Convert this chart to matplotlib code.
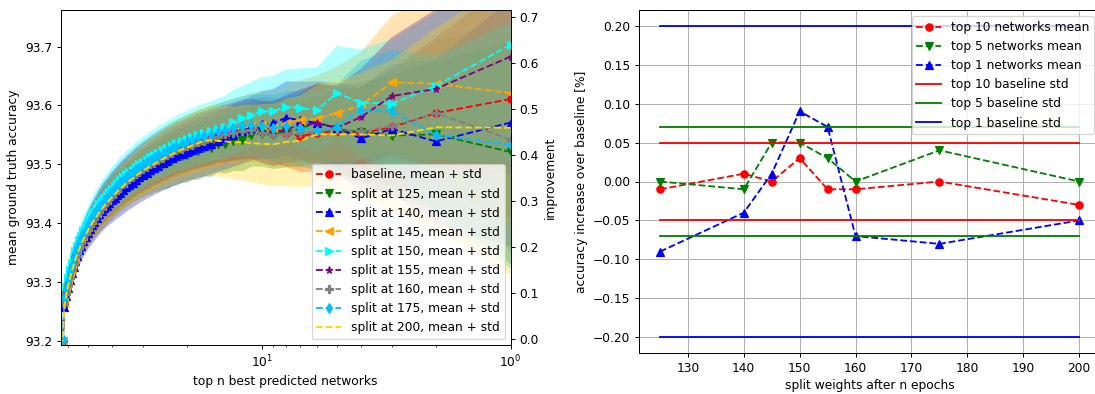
import numpy as np
import matplotlib
matplotlib.use("Agg")
import matplotlib.pyplot as plt

# ---------------------------------------------------------------- left panel data
# number of best predicted networks that are averaged
top_n = np.arange(1, 64)

acc_baseline = [93.611, 93.587, 93.563, 93.553, 93.557, 93.553, 93.548, 93.553, 93.560,
                93.563, 93.560, 93.556, 93.555, 93.550, 93.549, 93.543, 93.542, 93.537, 93.535,
                93.530, 93.528, 93.523, 93.521, 93.515, 93.513, 93.507, 93.505, 93.499, 93.497,
                93.491, 93.489, 93.483, 93.480, 93.474, 93.472, 93.465, 93.463, 93.456, 93.453,
                93.446, 93.443, 93.436, 93.433, 93.426, 93.422, 93.414, 93.410, 93.402, 93.398,
                93.389, 93.384, 93.375, 93.369, 93.359, 93.352, 93.341, 93.333, 93.320, 93.310,
                93.295, 93.282, 93.262, 93.200]
acc_split125 = [93.521, 93.551, 93.549, 93.555, 93.560, 93.572, 93.560, 93.556, 93.550,
                93.552, 93.550, 93.541, 93.540, 93.534, 93.535, 93.528, 93.527, 93.522, 93.521,
                93.516, 93.514, 93.510, 93.507, 93.503, 93.501, 93.498, 93.496, 93.492, 93.490,
                93.486, 93.483, 93.479, 93.475, 93.470, 93.467, 93.462, 93.458, 93.453, 93.449,
                93.443, 93.439, 93.433, 93.429, 93.423, 93.418, 93.412, 93.406, 93.400, 93.394,
                93.387, 93.380, 93.373, 93.365, 93.357, 93.348, 93.339, 93.329, 93.318, 93.306,
                93.293, 93.278, 93.260, 93.200]
acc_split140 = [93.571, 93.539, 93.560, 93.544, 93.562, 93.570, 93.575, 93.579, 93.570,
                93.568, 93.562, 93.556, 93.550, 93.544, 93.540, 93.535, 93.531, 93.528, 93.524,
                93.521, 93.517, 93.514, 93.510, 93.506, 93.502, 93.498, 93.494, 93.490, 93.486,
                93.482, 93.478, 93.474, 93.469, 93.465, 93.461, 93.456, 93.452, 93.448, 93.443,
                93.439, 93.435, 93.430, 93.426, 93.421, 93.415, 93.409, 93.403, 93.397, 93.391,
                93.384, 93.377, 93.370, 93.362, 93.354, 93.345, 93.336, 93.326, 93.315, 93.303,
                93.290, 93.276, 93.258, 93.200]
acc_split145 = [93.621, 93.637, 93.639, 93.600, 93.587, 93.577, 93.575, 93.570, 93.562,
                93.566, 93.565, 93.561, 93.558, 93.555, 93.551, 93.548, 93.545, 93.541, 93.538,
                93.534, 93.531, 93.527, 93.524, 93.519, 93.516, 93.511, 93.508, 93.503, 93.500,
                93.495, 93.492, 93.487, 93.483, 93.478, 93.475, 93.469, 93.466, 93.460, 93.456,
                93.450, 93.446, 93.440, 93.436, 93.430, 93.425, 93.418, 93.413, 93.406, 93.401,
                93.393, 93.387, 93.379, 93.372, 93.363, 93.355, 93.345, 93.336, 93.324, 93.313,
                93.299, 93.285, 93.266, 93.200]
acc_split150 = [93.703, 93.633, 93.603, 93.605, 93.621, 93.592, 93.596, 93.598, 93.590,
                93.590, 93.584, 93.578, 93.572, 93.564, 93.560, 93.556, 93.553, 93.550, 93.546,
                93.543, 93.539, 93.536, 93.532, 93.528, 93.524, 93.520, 93.516, 93.512, 93.508,
                93.504, 93.500, 93.496, 93.491, 93.487, 93.483, 93.478, 93.474, 93.469, 93.464,
                93.459, 93.453, 93.448, 93.443, 93.438, 93.432, 93.426, 93.420, 93.414, 93.408,
                93.401, 93.394, 93.387, 93.379, 93.371, 93.362, 93.353, 93.343, 93.332, 93.320,
                93.307, 93.292, 93.274, 93.205]
acc_split155 = [93.683, 93.628, 93.616, 93.580, 93.562, 93.570, 93.566, 93.560, 93.552,
                93.555, 93.561, 93.559, 93.556, 93.553, 93.551, 93.547, 93.544, 93.541, 93.537,
                93.534, 93.530, 93.527, 93.523, 93.519, 93.515, 93.511, 93.507, 93.503, 93.499,
                93.495, 93.491, 93.487, 93.482, 93.478, 93.474, 93.469, 93.465, 93.460, 93.455,
                93.450, 93.445, 93.440, 93.435, 93.430, 93.424, 93.418, 93.412, 93.406, 93.400,
                93.393, 93.386, 93.379, 93.371, 93.363, 93.354, 93.345, 93.335, 93.324, 93.312,
                93.299, 93.284, 93.266, 93.200]
acc_split160 = [93.542, 93.587, 93.565, 93.556, 93.560, 93.556, 93.553, 93.552, 93.550,
                93.553, 93.558, 93.557, 93.553, 93.551, 93.547, 93.545, 93.540, 93.538, 93.533,
                93.531, 93.526, 93.524, 93.519, 93.516, 93.511, 93.508, 93.503, 93.500, 93.495,
                93.492, 93.487, 93.484, 93.478, 93.475, 93.470, 93.466, 93.461, 93.457, 93.451,
                93.447, 93.441, 93.437, 93.431, 93.427, 93.420, 93.415, 93.408, 93.403, 93.396,
                93.390, 93.382, 93.376, 93.367, 93.360, 93.350, 93.342, 93.331, 93.321, 93.308,
                93.296, 93.280, 93.263, 93.200]
acc_split175 = [93.533, 93.550, 93.590, 93.593, 93.563, 93.557, 93.562, 93.565, 93.562,
                93.565, 93.567, 93.565, 93.562, 93.559, 93.556, 93.552, 93.549, 93.546, 93.542,
                93.539, 93.535, 93.532, 93.528, 93.524, 93.520, 93.516, 93.512, 93.508, 93.504,
                93.500, 93.496, 93.492, 93.487, 93.483, 93.479, 93.474, 93.470, 93.465, 93.460,
                93.455, 93.450, 93.445, 93.440, 93.435, 93.429, 93.423, 93.417, 93.411, 93.405,
                93.398, 93.391, 93.384, 93.376, 93.368, 93.359, 93.350, 93.340, 93.329, 93.317,
                93.304, 93.289, 93.271, 93.203]
acc_split200 = [93.562, 93.563, 93.549, 93.551, 93.551, 93.551, 93.540, 93.538, 93.534,
                93.535, 93.536, 93.538, 93.537, 93.539, 93.540, 93.541, 93.540, 93.536, 93.532,
                93.528, 93.525, 93.521, 93.517, 93.513, 93.509, 93.505, 93.501, 93.497, 93.493,
                93.489, 93.485, 93.481, 93.476, 93.472, 93.468, 93.463, 93.459, 93.454, 93.449,
                93.444, 93.439, 93.434, 93.429, 93.424, 93.418, 93.412, 93.406, 93.400, 93.394,
                93.387, 93.380, 93.373, 93.365, 93.357, 93.348, 93.339, 93.329, 93.318, 93.306,
                93.293, 93.278, 93.260, 93.200]

std_baseline = [0.200, 0.130, 0.100, 0.080, 0.070, 0.065, 0.060, 0.057, 0.054, 0.052,
                0.050, 0.049, 0.048, 0.047, 0.046, 0.046, 0.045, 0.045, 0.044, 0.044,
                0.043, 0.043, 0.042, 0.042, 0.041, 0.041, 0.040, 0.040, 0.039, 0.039,
                0.038, 0.038, 0.037, 0.037, 0.036, 0.036, 0.035, 0.035, 0.034, 0.034,
                0.033, 0.032, 0.032, 0.031, 0.030, 0.029, 0.028, 0.027, 0.026, 0.025,
                0.024, 0.023, 0.022, 0.021, 0.019, 0.018, 0.016, 0.015, 0.013, 0.011,
                0.009, 0.006, 0.002]
std_split125 = [0.190, 0.125, 0.105, 0.085, 0.074, 0.068, 0.063, 0.060, 0.057, 0.055,
                0.053, 0.052, 0.050, 0.049, 0.048, 0.048, 0.047, 0.047, 0.046, 0.046,
                0.045, 0.045, 0.044, 0.044, 0.043, 0.043, 0.042, 0.042, 0.041, 0.041,
                0.040, 0.040, 0.039, 0.039, 0.038, 0.038, 0.037, 0.037, 0.036, 0.036,
                0.035, 0.034, 0.034, 0.033, 0.032, 0.031, 0.030, 0.029, 0.027, 0.026,
                0.025, 0.024, 0.023, 0.022, 0.020, 0.019, 0.017, 0.016, 0.014, 0.012,
                0.009, 0.006, 0.002]
std_split140 = [0.210, 0.140, 0.110, 0.088, 0.077, 0.072, 0.066, 0.063, 0.059, 0.057,
                0.055, 0.054, 0.053, 0.052, 0.051, 0.050, 0.050, 0.049, 0.049, 0.048,
                0.047, 0.047, 0.046, 0.046, 0.045, 0.045, 0.044, 0.044, 0.043, 0.043,
                0.042, 0.042, 0.041, 0.040, 0.040, 0.039, 0.039, 0.038, 0.037, 0.037,
                0.036, 0.035, 0.035, 0.034, 0.033, 0.032, 0.031, 0.030, 0.029, 0.027,
                0.026, 0.025, 0.024, 0.023, 0.021, 0.020, 0.018, 0.016, 0.014, 0.012,
                0.010, 0.007, 0.002]
std_split145 = [0.230, 0.150, 0.115, 0.092, 0.080, 0.075, 0.069, 0.066, 0.062, 0.060,
                0.058, 0.056, 0.055, 0.054, 0.053, 0.053, 0.052, 0.052, 0.051, 0.051,
                0.049, 0.049, 0.048, 0.048, 0.047, 0.047, 0.046, 0.046, 0.045, 0.045,
                0.044, 0.044, 0.043, 0.043, 0.041, 0.041, 0.040, 0.040, 0.039, 0.039,
                0.038, 0.037, 0.037, 0.036, 0.035, 0.033, 0.032, 0.031, 0.030, 0.029,
                0.028, 0.026, 0.025, 0.024, 0.022, 0.021, 0.018, 0.017, 0.015, 0.013,
                0.010, 0.007, 0.002]
std_split150 = [0.200, 0.125, 0.110, 0.090, 0.080, 0.072, 0.067, 0.063, 0.060, 0.058,
                0.056, 0.055, 0.054, 0.053, 0.052, 0.051, 0.050, 0.050, 0.049, 0.048,
                0.047, 0.047, 0.046, 0.046, 0.045, 0.045, 0.044, 0.044, 0.043, 0.043,
                0.042, 0.042, 0.041, 0.040, 0.040, 0.039, 0.039, 0.038, 0.037, 0.037,
                0.036, 0.035, 0.035, 0.034, 0.033, 0.032, 0.031, 0.030, 0.029, 0.027,
                0.026, 0.025, 0.024, 0.023, 0.021, 0.020, 0.018, 0.016, 0.014, 0.012,
                0.010, 0.007, 0.002]
std_split155 = [0.200, 0.135, 0.100, 0.082, 0.071, 0.066, 0.061, 0.058, 0.055, 0.053,
                0.051, 0.050, 0.049, 0.048, 0.047, 0.047, 0.046, 0.046, 0.045, 0.045,
                0.044, 0.044, 0.043, 0.043, 0.042, 0.042, 0.041, 0.041, 0.040, 0.040,
                0.039, 0.039, 0.038, 0.038, 0.037, 0.037, 0.036, 0.036, 0.035, 0.035,
                0.034, 0.033, 0.033, 0.032, 0.031, 0.030, 0.029, 0.028, 0.027, 0.026,
                0.025, 0.024, 0.023, 0.022, 0.020, 0.019, 0.017, 0.016, 0.014, 0.012,
                0.009, 0.006, 0.002]
std_split160 = [0.190, 0.125, 0.095, 0.076, 0.067, 0.062, 0.057, 0.054, 0.051, 0.049,
                0.048, 0.047, 0.046, 0.045, 0.044, 0.044, 0.043, 0.043, 0.042, 0.042,
                0.041, 0.041, 0.040, 0.040, 0.039, 0.039, 0.038, 0.038, 0.037, 0.037,
                0.036, 0.036, 0.035, 0.035, 0.034, 0.034, 0.033, 0.033, 0.032, 0.032,
                0.031, 0.030, 0.030, 0.029, 0.029, 0.028, 0.027, 0.026, 0.025, 0.024,
                0.023, 0.022, 0.021, 0.020, 0.018, 0.017, 0.015, 0.014, 0.012, 0.010,
                0.008, 0.006, 0.002]
std_split175 = [0.210, 0.135, 0.105, 0.084, 0.074, 0.068, 0.063, 0.060, 0.057, 0.055,
                0.053, 0.051, 0.050, 0.049, 0.048, 0.048, 0.047, 0.047, 0.046, 0.046,
                0.045, 0.045, 0.044, 0.044, 0.043, 0.043, 0.042, 0.042, 0.041, 0.041,
                0.040, 0.040, 0.039, 0.039, 0.038, 0.038, 0.037, 0.037, 0.036, 0.036,
                0.035, 0.034, 0.034, 0.033, 0.032, 0.031, 0.030, 0.029, 0.027, 0.026,
                0.025, 0.024, 0.023, 0.022, 0.020, 0.019, 0.017, 0.016, 0.014, 0.012,
                0.009, 0.006, 0.002]
std_split200 = [0.250, 0.170, 0.130, 0.105, 0.092, 0.085, 0.078, 0.074, 0.070, 0.068,
                0.066, 0.064, 0.062, 0.061, 0.060, 0.059, 0.058, 0.057, 0.056, 0.055,
                0.054, 0.053, 0.052, 0.051, 0.050, 0.049, 0.048, 0.047, 0.046, 0.045,
                0.044, 0.043, 0.042, 0.041, 0.040, 0.039, 0.038, 0.037, 0.036, 0.035,
                0.034, 0.033, 0.032, 0.031, 0.030, 0.030, 0.029, 0.028, 0.027, 0.026,
                0.025, 0.024, 0.023, 0.022, 0.020, 0.019, 0.017, 0.016, 0.014, 0.012,
                0.010, 0.007, 0.002]

curve_labels = ["baseline, mean + std", "split at 125, mean + std", "split at 140, mean + std",
                "split at 145, mean + std", "split at 150, mean + std", "split at 155, mean + std",
                "split at 160, mean + std", "split at 175, mean + std", "split at 200, mean + std"]

# ---------------------------------------------------------------- right panel data
split_epochs = [125, 140, 145, 150, 155, 160, 175, 200]
top10_mean = [-0.01, 0.01, 0.00, 0.03, -0.01, -0.01, 0.00, -0.03]
top5_mean = [0.00, -0.01, 0.05, 0.05, 0.03, 0.00, 0.04, 0.00]
top1_mean = [-0.09, -0.04, 0.01, 0.09, 0.07, -0.07, -0.08, -0.05]
top10_std = 0.05
top5_std = 0.07
top1_std = 0.20

# ---------------------------------------------------------------- figure
W, H, DPI = 1095, 394, 88
fig = plt.figure(figsize=(W / DPI, H / DPI), dpi=DPI)


def px_axes(x0, y0, x1, y1):
    return fig.add_axes([x0 / W, (H - y1) / H, (x1 - x0) / W, (y1 - y0) / H])


ax = px_axes(60.7, 10, 510.7, 345.3)
ax_r = px_axes(639, 10, 1100, 353)

means = [acc_baseline, acc_split125, acc_split140, acc_split145, acc_split150,
         acc_split155, acc_split160, acc_split175, acc_split200]
stds = [std_baseline, std_split125, std_split140, std_split145, std_split150,
        std_split155, std_split160, std_split175, std_split200]
colors = ["red", "green", "blue", "orange", "cyan", "purple", "grey", "deepskyblue", "gold"]
markers = ["o", "v", "^", "<", ">", "*", "P", "d", None]

for m, s, c in zip(means, stds, colors):
    m = np.asarray(m)
    s = np.asarray(s)
    ax.fill_between(top_n, m - s, m + s, color=c, alpha=0.3, linewidth=0, zorder=1)

for m, c, mk, lab in zip(means, colors, markers, curve_labels):
    ax.plot(top_n, m, linestyle="--", marker=mk, color=c, label=lab, zorder=3)

ax.set_xscale("log")
ax.set_xlim(64.2, 1)
ax.set_ylim(93.193, 93.762)
ax.set_yticks([93.2, 93.3, 93.4, 93.5, 93.6, 93.7])
ax.set_xlabel("top n best predicted networks")
ax.set_ylabel("mean ground truth accuracy")
ax.legend(loc="lower right")

ax_t = ax.twinx()
ax_t.set_ylim(-0.013, 0.716)
ax_t.set_yticks([0.0, 0.1, 0.2, 0.3, 0.4, 0.5, 0.6, 0.7])
ax_t.set_ylabel("improvement")

# right panel
ax_r.plot(split_epochs, top10_mean, "o--", color="red", label="top 10 networks mean")
ax_r.plot(split_epochs, top5_mean, "v--", color="green", label="top 5 networks mean")
ax_r.plot(split_epochs, top1_mean, "^--", color="blue", label="top 1 networks mean")
span = [split_epochs[0], split_epochs[-1]]
ax_r.plot(span, [top10_std] * 2, "-", color="red", label="top 10 baseline std")
ax_r.plot(span, [-top10_std] * 2, "-", color="red")
ax_r.plot(span, [top5_std] * 2, "-", color="green", label="top 5 baseline std")
ax_r.plot(span, [-top5_std] * 2, "-", color="green")
ax_r.plot(span, [top1_std] * 2, "-", color="blue", label="top 1 baseline std")
ax_r.plot(span, [-top1_std] * 2, "-", color="blue")
ax_r.set_xlim(121.25, 203.75)
ax_r.set_ylim(-0.22, 0.22)
ax_r.grid(True)
ax_r.set_xlabel("split weights after n epochs")
ax_r.set_ylabel("accuracy increase over baseline [%]")
ax_r.legend(loc="upper right")

fig.savefig("out.png", dpi=DPI)
